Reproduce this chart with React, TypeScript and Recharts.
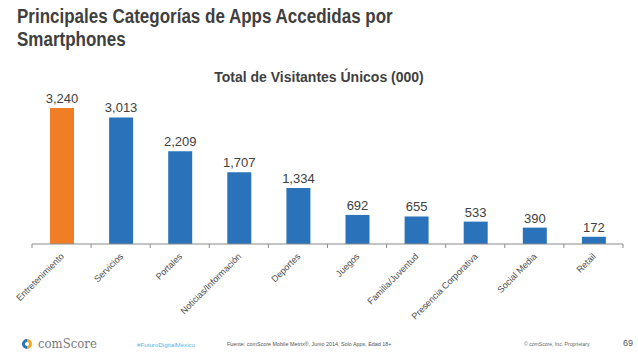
import { BarChart, Bar, XAxis, YAxis, Cell, LabelList } from 'recharts'

const categories = [
  'Entretenimiento',
  'Servicios',
  'Portales',
  'Noticias/Información',
  'Deportes',
  'Juegos',
  'Familia/Juventud',
  'Presencia Corporativa',
  'Social Media',
  'Retail',
]
const visitors = [3240, 3013, 2209, 1707, 1334, 692, 655, 533, 390, 172]
const highlight = 'Entretenimiento'

const data = categories.map((name, i) => ({ name, value: visitors[i] }))

const font = '"Liberation Sans", Arial, Helvetica, sans-serif'
const BAND = 59.1

function CategoryTick(props: any) {
  const { x, y, payload, index } = props
  const last = index === categories.length - 1
  return (
    <g>
      <line x1={x - BAND / 2} y1={y - 8} x2={x - BAND / 2} y2={y - 4} stroke="#8a8a8a" />
      {last && <line x1={x + BAND / 2} y1={y - 8} x2={x + BAND / 2} y2={y - 4} stroke="#8a8a8a" />}
      <g transform={`translate(${x + 3},${y + 5})`}>
        <text
          x={0}
          y={0}
          textAnchor="end"
          transform="rotate(-45)"
          fontSize={9}
          fill="#4a4a4a"
          fontFamily={font}
        >
          {payload.value}
        </text>
      </g>
    </g>
  )
}

const small = (left: number, top: number, size: number, color: string, text: string) => (
  <div style={{ position: 'absolute', left, top, fontSize: size, color, whiteSpace: 'nowrap' }}>{text}</div>
)

export default function App() {
  return (
    <div
      style={{
        position: 'absolute',
        left: 0,
        top: 0,
        width: 638,
        height: 359,
        background: '#fff',
        fontFamily: font,
        overflow: 'hidden',
      }}
    >
      <div
        style={{
          position: 'absolute',
          left: 17,
          top: 5,
          fontSize: 20,
          lineHeight: '23px',
          fontWeight: 'bold',
          color: '#3f3f3f',
          whiteSpace: 'nowrap',
          transform: 'scaleX(0.85)',
          transformOrigin: 'left top',
        }}
      >
        Principales Categorías de Apps Accedidas por
        <br />
        Smartphones
      </div>
      <div
        style={{
          position: 'absolute',
          left: 0,
          width: 638,
          top: 69,
          textAlign: 'center',
          fontSize: 14,
          fontWeight: 'bold',
          color: '#3f3f3f',
        }}
      >
        Total de Visitantes Únicos (000)
      </div>
      <div style={{ position: 'absolute', left: 0, top: 0 }}>
        <BarChart
          width={638}
          height={359}
          data={data}
          margin={{ top: 97, right: 15, bottom: 15, left: 32 }}
        >
          <XAxis
            dataKey="name"
            interval={0}
            height={100}
            axisLine={{ stroke: '#8a8a8a' }}
            tickLine={false}
            tick={<CategoryTick />}
          />
          <YAxis hide domain={[0, 3500]} />
          <Bar dataKey="value" barSize={24} isAnimationActive={false}>
            {data.map((d) => (
              <Cell key={d.name} fill={d.name === highlight ? '#f07e26' : '#2a73ba'} />
            ))}
            <LabelList
              dataKey="value"
              position="top"
              offset={5}
              fontSize={13}
              fill="#404040"
              fontFamily={font}
              formatter={(v: any) => Number(v).toLocaleString('en-US')}
            />
          </Bar>
        </BarChart>
      </div>
      <svg style={{ position: 'absolute', left: 21, top: 338 }} width={12} height={12}>
        <path d="M6 1 A5 5 0 0 0 6 11 L6 8 A2 2 0 0 1 6 4 Z" fill="#2a73ba" />
        <path d="M6 1 A5 5 0 0 1 6 11 L6 8 A2 2 0 0 0 6 4 Z" fill="#f5a623" />
      </svg>
      <div
        style={{
          position: 'absolute',
          left: 38,
          top: 336,
          fontSize: 13,
          color: '#7a7a7a',
          fontFamily: '"DejaVu Serif", serif',
          transform: 'scaleX(0.9)',
          transformOrigin: 'left top',
        }}
      >
        comScore
      </div>
      {small(137, 341, 6.2, '#5bb4e5', '#FuturoDigitalMexico')}
      {small(227, 341, 5.4, '#555', 'Fuente: comScore Mobile Metrix®, Junio 2014, Solo Apps, Edad 18+')}
      {small(524, 341, 5.1, '#666', '© comScore, Inc. Proprietary.')}
      {small(623, 338, 9, '#555', '69')}
    </div>
  )
}
